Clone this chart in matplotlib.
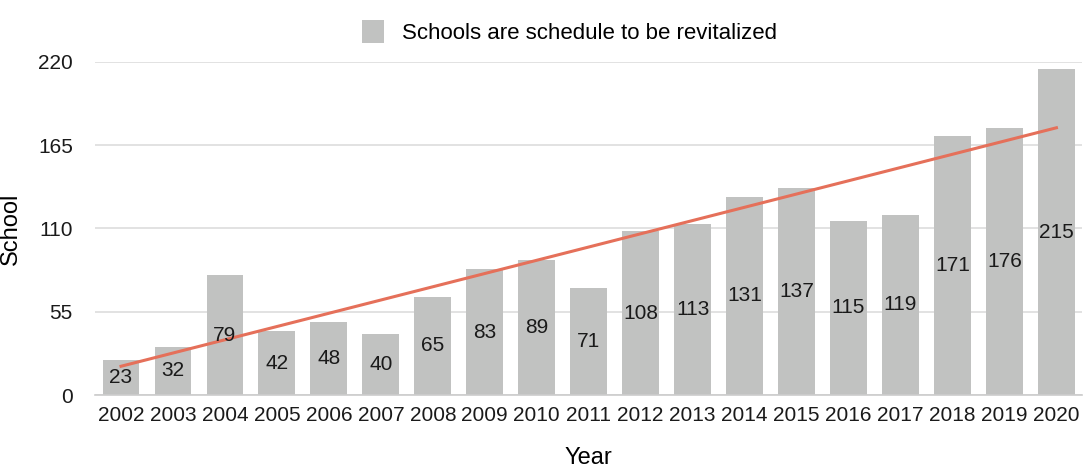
import numpy as np
from matplotlib import pyplot as plt

years = ["2002", "2003", "2004", "2005", "2006", "2007", "2008", "2009", "2010", "2011",
         "2012", "2013", "2014", "2015", "2016", "2017", "2018", "2019", "2020"]
schools = [23, 32, 79, 42, 48, 40, 65, 83, 89, 71, 108, 113, 131, 137, 115, 119, 171, 176, 215]
y_ticks = [0, 55, 110, 165, 220]

plt.rcParams['font.family'] = ['Liberation Sans', 'DejaVu Sans']

fig = plt.figure(figsize=(10.85, 4.72), dpi=100)
ax = fig.add_axes([0.0876, 0.163, 0.91, 0.706])

x = np.arange(len(years))
bars = ax.bar(x, schools, width=0.71, color="#c1c2c1", zorder=2,
              label="Schools are schedule to be revitalized")

# linear trend line
slope, intercept = np.polyfit(x, schools, 1)
ax.plot(x, slope * x + intercept, color="#e5705a", linewidth=2.2, zorder=3)

for xi, v in zip(x, schools):
    ax.text(xi, v / 2, str(v), ha="center", va="center", fontsize=15, color="#1a1a1a", zorder=4)

ax.set_xlim(-0.5, len(years) - 0.5)
ax.set_ylim(0, 220)
ax.set_yticks(y_ticks)
ax.set_xticks(x)
ax.set_xticklabels(years)
ax.tick_params(axis="both", length=0, labelsize=15, colors="#1a1a1a")
ax.tick_params(axis="y", pad=16)
ax.tick_params(axis="x", pad=8)
ax.grid(axis="y", color="#dddddd", linewidth=1.2, zorder=0)
for s in ["top", "right", "left"]:
    ax.spines[s].set_visible(False)
ax.spines["bottom"].set_color("#cccccc")
ax.spines["bottom"].set_linewidth(1.2)

ax.set_xlabel("Year", fontsize=17, labelpad=16)
ax.set_ylabel("School", fontsize=17)
ax.yaxis.set_label_coords(-0.074, 0.5)

fig.legend(handles=[bars], loc="upper center", bbox_to_anchor=(0.525, 1.0), frameon=False,
           fontsize=16, handlelength=1.0, handleheight=1.2, handletextpad=0.8)

fig.savefig("out.png", dpi=100)
